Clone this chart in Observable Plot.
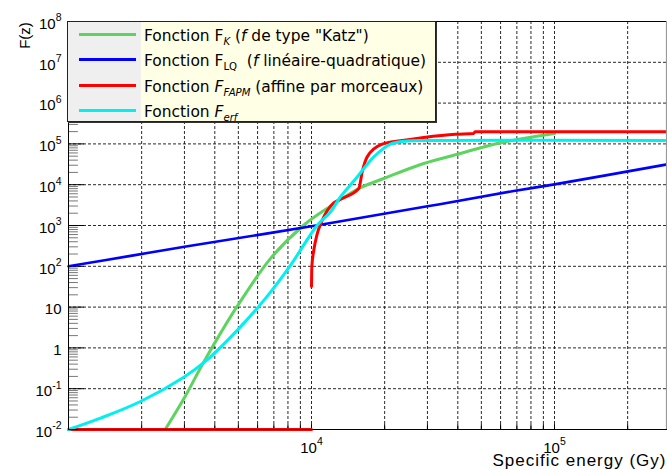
<!DOCTYPE html>
<html><head><meta charset="utf-8">
<script src="https://cdn.jsdelivr.net/npm/d3@7"></script>
<script src="https://cdn.jsdelivr.net/npm/@observablehq/plot@0.6"></script>
<style>
body{margin:0;background:#fff;}
#wrap{position:relative;width:667px;height:470px;overflow:hidden;}
#legend{position:absolute;left:67px;top:21px;width:367px;height:99px;border:1.5px solid #222;box-shadow:1px 1px 0 #333;
 background:linear-gradient(to right,#efefef 0,#efefef 73px,#ffffe6 73px);font-family:"DejaVu Sans";color:#000;}
.row{position:absolute;left:0;height:20px;width:367px;}
.sw{position:absolute;left:11px;top:6.5px;width:57px;height:3px;}
.lab{position:absolute;left:76px;top:0;white-space:nowrap;line-height:20px;font-size:16px;transform:scaleX(0.965);transform-origin:0 0;}
.lab sub{font-size:10.5px;vertical-align:-4px;line-height:0;}
</style></head>
<body><div id="wrap"></div>
<script>
// ---- data ----
const xDomain = [1000, 289000];
const yDomain = [1e-2, 1e8];

const yTickVals   = [1e-2, 1e-1, 1, 10, 1e2, 1e3, 1e4, 1e5, 1e6, 1e7, 1e8];
const yTickLabels = ["10^-2","10^-1","1","10","10^2","10^3","10^4","10^5","10^6","10^7","10^8"];
const xTickVals   = [1e4, 1e5];
const xTickLabels = ["10^4","10^5"];
const xGridVals = [2000,3000,4000,5000,6000,7000,8000,9000,10000,20000,30000,40000,50000,60000,70000,80000,90000,100000,200000];
const yGridVals = [1e-1, 1, 10, 1e2, 1e3, 1e4, 1e5, 1e6, 1e7];

// F_K (Katz)
const katzX = [2500, 2982, 3570, 4290, 4944, 6776, 9290, 11970, 15650, 19840, 28970, 41050, 58070, 100000];
const katzY = [0.01, 0.0566, 0.41, 2.69, 10.4, 154, 1015, 2966, 8070, 14190, 33100, 58300, 102600, 180000];
// F_LQ
const lqX = [1000, 1800, 3000, 10000, 30000, 68000, 100000, 287000];
const lqY = [100, 180, 300, 960, 2950, 7000, 10200, 31000];
// F_FAPM
const fapmLowX = [1000, 10000];
const fapmLowY = [0.01, 0.01];
const fapmX = [10000, 10030, 10220, 10560, 11070, 12350, 13150, 15650, 16170, 16950, 19540, 23230, 28970, 39170, 46400, 47200, 289000];
const fapmY = [32, 96, 247, 634, 1346, 3575, 4406, 8070, 20600, 48100, 98600, 119000, 144000, 173000, 180000, 198000, 198000];
// F_erf
const erfX = [1000, 1354, 1977, 2982, 3698, 4944, 6364, 8196, 10560, 11970, 13150, 15420, 18050, 21130, 24770, 30000, 285000];
const erfY = [0.01, 0.019, 0.0486, 0.192, 0.493, 2.69, 14.6, 106, 1015, 2150, 5020, 15500, 48100, 98600, 118000, 122000, 122000];

const seriesColors = {katz: "#5fd35f", lq: "#0000ff", fapm: "#ff0000", erf: "#00f0f0"};

const toPts = (xs, ys) => xs.map((x, i) => ({x, y: ys[i]}));

// minor tick positions (2..9 per decade)
const yMinor = [];
for (let e = -2; e < 8; e++) for (let m = 2; m <= 9; m++) yMinor.push(m * Math.pow(10, e));

const tickShape = {draw(ctx, l) { ctx.moveTo(0, 0); ctx.lineTo(0, -l); }};
const tickFont = '"Liberation Sans", Arial, sans-serif';
const xTitle = "Specific energy (Gy)";

const plot = Plot.plot({
  width: 667, height: 470,
  marginLeft: 68, marginRight: 1, marginTop: 21, marginBottom: 41,
  x: {type: "log", domain: xDomain, axis: null},
  y: {type: "log", domain: yDomain, axis: null},
  style: {background: "#fff", fontFamily: tickFont},
  marks: [
    Plot.ruleX(xGridVals, {x: d => d, stroke: "#111", strokeDasharray: "3,2", strokeWidth: 0.9}),
    Plot.ruleY(yGridVals, {y: d => d, stroke: "#111", strokeDasharray: "3,2", strokeWidth: 0.9}),
    Plot.vector(yMinor, {y: d => d, frameAnchor: "left", rotate: 90, length: 9, anchor: "start", shape: tickShape, stroke: "#777", strokeWidth: 1}),
    Plot.vector(yTickVals, {y: d => d, frameAnchor: "left", rotate: 90, length: 15, anchor: "start", shape: tickShape, stroke: "#000", strokeWidth: 1}),
    Plot.vector(xGridVals, {x: d => d, frameAnchor: "bottom", rotate: 0, length: 5, anchor: "start", shape: tickShape, stroke: "#000", strokeWidth: 1}),
    Plot.line(toPts(katzX, katzY), {x: "x", y: "y", stroke: seriesColors.katz, strokeWidth: 3, curve: "catmull-rom"}),
    Plot.line(toPts(lqX, lqY), {x: "x", y: "y", stroke: seriesColors.lq, strokeWidth: 2.6, curve: "catmull-rom"}),
    Plot.line(toPts(fapmLowX, fapmLowY), {x: "x", y: "y", stroke: seriesColors.fapm, strokeWidth: 3}),
    Plot.line(toPts(fapmX, fapmY), {x: "x", y: "y", stroke: seriesColors.fapm, strokeWidth: 3, curve: "monotone-x"}),
    Plot.line(toPts(erfX, erfY), {x: "x", y: "y", stroke: seriesColors.erf, strokeWidth: 3, curve: "catmull-rom"}),
    Plot.frame({stroke: "#000", strokeWidth: 1}),
    Plot.ruleX([xDomain[1]], {x: d => d, stroke: "#999", strokeWidth: 1.2}),
    Plot.text(yTickVals, {y: d => d, text: (d, i) => yTickLabels[i], frameAnchor: "left", dx: -7, dy: 2.5, textAnchor: "end", fontSize: 15, fill: "#000"}),
    Plot.text(xTickVals, {x: d => d, text: (d, i) => xTickLabels[i], frameAnchor: "bottom", dy: 23, lineAnchor: "bottom", textAnchor: "middle", fontSize: 15, fill: "#000"}),
    Plot.text(["F(z)"], {frameAnchor: "top-left", dx: -49, dy: 14, rotate: -90, textAnchor: "middle", fontSize: 15, fill: "#000"}),
    Plot.text([xTitle], {frameAnchor: "bottom-right", dy: 36.5, lineAnchor: "bottom", textAnchor: "end", fontSize: 17, fill: "#000"})
  ]
});

// superscript exponents on tick labels ("10^n" -> 10 with raised n)
d3.select(plot).selectAll("text").each(function() {
  const t = this.textContent;
  const m = t.match(/^10\^(.+)$/);
  if (m) {
    this.textContent = "";
    const s = d3.select(this);
    s.append("tspan").text("10");
    s.append("tspan").attr("dy", -7.5).attr("font-size", 10.5).text(m[1]);
  } else if (t === xTitle) {
    this.style.letterSpacing = "1px";
  }
});

const wrap = document.getElementById("wrap");
wrap.appendChild(plot);

// legend
const legendItems = [
  {color: seriesColors.katz, html: 'Fonction F<sub><i>K</i></sub> (<i>f</i> de type "Katz")'},
  {color: seriesColors.lq,   html: 'Fonction F<sub>LQ</sub>&nbsp; (<i>f</i> linéaire-quadratique)'},
  {color: seriesColors.fapm, html: 'Fonction <i>F<sub>FAPM</sub></i> (affine par morceaux)'},
  {color: seriesColors.erf,  html: 'Fonction <i>F<sub>erf</sub></i>'}
];
const rowTops = [4, 29.3, 55, 80];
const leg = document.createElement("div");
leg.id = "legend";
legendItems.forEach((it, i) => {
  const r = document.createElement("div");
  r.className = "row";
  r.style.top = rowTops[i] + "px";
  r.innerHTML = `<div class="sw" style="background:${it.color}"></div><div class="lab">${it.html}</div>`;
  leg.appendChild(r);
});
wrap.appendChild(leg);
</script></body></html>
